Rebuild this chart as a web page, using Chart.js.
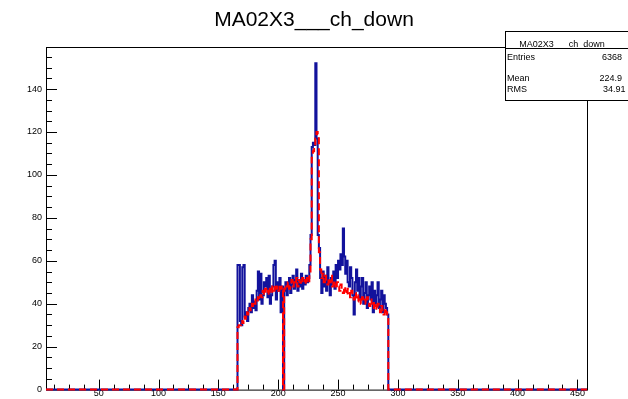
<!DOCTYPE html>
<html>
<head>
<meta charset="utf-8">
<script src="https://cdn.jsdelivr.net/npm/chart.js@4"></script>
<style>
  html, body { margin: 0; padding: 0; background: #fff; }
  canvas { display: block; }
</style>
</head>
<body>
<canvas id="histChart" width="628" height="399"></canvas>
<script>
// Histogram MA02X3___ch_down (ROOT style)
const histTitle = "MA02X3___ch_down";
const firstBinLow = 166; // low edge of the first filled bin, bin width 1

// bin contents, bins 166 .. 291
const blueCounts = [
    58, 58, 32, 30, 57, 58, 34, 36, 32, 38,
    40, 36, 44, 38, 41, 37, 46, 55, 42, 54,
    40, 44, 50, 48, 52, 43, 53, 40, 44, 48,
    58, 60, 42, 50, 46, 52, 36, 48, 0, 46,
    50, 44, 48, 52, 45, 49, 53, 47, 51, 56,
    46, 50, 48, 54, 47, 51, 49, 53, 50, 52,
    58, 72, 113, 115, 114, 152, 117, 72, 66, 52,
    45, 55, 48, 53, 46, 57, 50, 44, 52, 49,
    55, 47, 58, 52, 60, 56, 63, 58, 75, 62,
    54, 60, 50, 48, 57, 52, 44, 35, 50, 56,
    46, 52, 42, 48, 52, 40, 45, 50, 38, 44,
    48, 42, 50, 36, 46, 40, 44, 50, 38, 42,
    46, 36, 44, 40, 38, 35
];
const redCounts = [
    29, 30, 30, 32, 31, 34, 33, 36, 35, 38,
    37, 40, 39, 41, 40, 42, 41, 43, 42, 44,
    43, 46, 44, 47, 45, 46, 44, 47, 45, 48,
    46, 49, 47, 48, 46, 49, 47, 48, 0, 47,
    49, 48, 50, 47, 49, 51, 48, 50, 49, 52,
    48, 51, 50, 49, 52, 50, 51, 49, 52, 50,
    55, 70, 108, 111, 113, 117, 120, 119, 64, 56,
    52, 54, 50, 53, 51, 49, 52, 50, 53, 48,
    51, 49, 47, 50, 48, 46, 49, 47, 45, 48,
    46, 44, 47, 45, 43, 46, 44, 42, 45, 43,
    41, 44, 42, 40, 43, 41, 42, 40, 43, 41,
    39, 42, 40, 38, 41, 39, 37, 40, 38, 36,
    39, 37, 35, 38, 36, 34
];

const xTickLabels = [50, 100, 150, 200, 250, 300, 350, 400, 450];
const yTickLabels = [0, 20, 40, 60, 80, 100, 120, 140];
const statsNames = ["Entries", "Mean", "RMS"];
const statsValues = ["6368", "224.9", "34.91"];

const xRange = [6, 458];
const yRange = [0, 159.6];
const fontFamily = "'Liberation Sans', Arial, sans-serif";

// step points: one point per bin low edge, closed with zeros on both sides
function histPoints(counts) {
    const pts = [{ x: xRange[0], y: 0 }];
    counts.forEach((c, i) => pts.push({ x: firstBinLow + i, y: c }));
    pts.push({ x: firstBinLow + counts.length, y: 0 });
    pts.push({ x: xRange[1], y: 0 });
    return pts;
}

// frame, inward ticks, title and stats box like ROOT draws them
const rootDecor = {
    id: "rootDecor",
    beforeDatasetsDraw(chart) {
        const { ctx, chartArea: a, scales: { x, y } } = chart;
        ctx.save();
        ctx.strokeStyle = "#000";
        ctx.lineWidth = 1;
        ctx.strokeRect(a.left + 0.5, a.top + 0.5, a.right - a.left, a.bottom - a.top);
        ctx.beginPath();
        for (let v = 12.5; v <= xRange[1]; v += 12.5) {
            if (v <= xRange[0]) continue;
            const px = Math.round(x.getPixelForValue(v)) + 0.5;
            const len = v % 50 === 0 ? 10 : 5;
            ctx.moveTo(px, a.bottom);
            ctx.lineTo(px, a.bottom - len);
        }
        for (let v = 5; v < yRange[1]; v += 5) {
            const py = Math.round(y.getPixelForValue(v)) + 0.5;
            const len = v % 20 === 0 ? 11 : 6;
            ctx.moveTo(a.left, py);
            ctx.lineTo(a.left + len, py);
        }
        ctx.stroke();
        ctx.restore();
    },
    afterDraw(chart) {
        const { ctx } = chart;
        ctx.save();
        // title
        ctx.fillStyle = "#000";
        ctx.font = "21px " + fontFamily;
        ctx.textAlign = "center";
        ctx.textBaseline = "alphabetic";
        ctx.fillText(histTitle, 314, 26);

        // stats box
        ctx.fillStyle = "#fff";
        ctx.fillRect(505, 31, 140, 69);
        ctx.strokeStyle = "#000";
        ctx.lineWidth = 1;
        ctx.strokeRect(505.5, 31.5, 140, 69);
        ctx.beginPath();
        ctx.moveTo(505, 48.5);
        ctx.lineTo(628, 48.5);
        ctx.stroke();
        ctx.fillStyle = "#000";
        ctx.font = "9px " + fontFamily;
        ctx.textAlign = "center";
        ctx.fillText(histTitle, 562, 47);
        const rowY = [60, 81, 92];
        statsNames.forEach((name, i) => {
            ctx.textAlign = "left";
            ctx.fillText(name, 507, rowY[i]);
            if (i === 2) {
                ctx.fillText(statsValues[i], 603, rowY[i]);
            } else {
                ctx.textAlign = "right";
                ctx.fillText(statsValues[i], 622, rowY[i]);
            }
        });
        ctx.restore();
    }
};

new Chart(document.getElementById("histChart"), {
    type: "line",
    data: {
        datasets: [
            {
                label: "ch_down",
                data: histPoints(blueCounts),
                borderColor: "#12129c",
                borderWidth: 2,
                stepped: true,
                pointRadius: 0,
                fill: false,
                clip: false,
                order: 2,
            },
            {
                label: "ch_down ref",
                data: histPoints(redCounts),
                borderColor: "#ff0000",
                borderWidth: 2,
                borderDash: [7, 4],
                stepped: true,
                pointRadius: 0,
                fill: false,
                clip: false,
                order: 1,
            },
        ],
    },
    options: {
        responsive: false,
        animation: false,
        layout: { padding: { top: 47, right: 41, bottom: 0, left: 0 } },
        plugins: {
            legend: { display: false },
            title: { display: false },
            tooltip: { enabled: false },
        },
        scales: {
            x: {
                type: "linear",
                min: xRange[0],
                max: xRange[1],
                grid: { display: false, drawTicks: false },
                border: { display: false },
                afterBuildTicks: (axis) => { axis.ticks = xTickLabels.map(v => ({ value: v })); },
                afterFit: (axis) => { axis.height = 9; },
                ticks: {
                    padding: -1,
                    color: "#000",
                    font: { family: fontFamily, size: 9 },
                    maxRotation: 0,
                    autoSkip: false,
                },
            },
            y: {
                min: yRange[0],
                max: yRange[1],
                grid: { display: false, drawTicks: false },
                border: { display: false },
                afterBuildTicks: (axis) => { axis.ticks = yTickLabels.map(v => ({ value: v })); },
                afterFit: (axis) => { axis.width = 46; },
                ticks: {
                    padding: 4,
                    color: "#000",
                    font: { family: fontFamily, size: 9 },
                },
            },
        },
    },
    plugins: [rootDecor],
});
</script>
</body>
</html>
